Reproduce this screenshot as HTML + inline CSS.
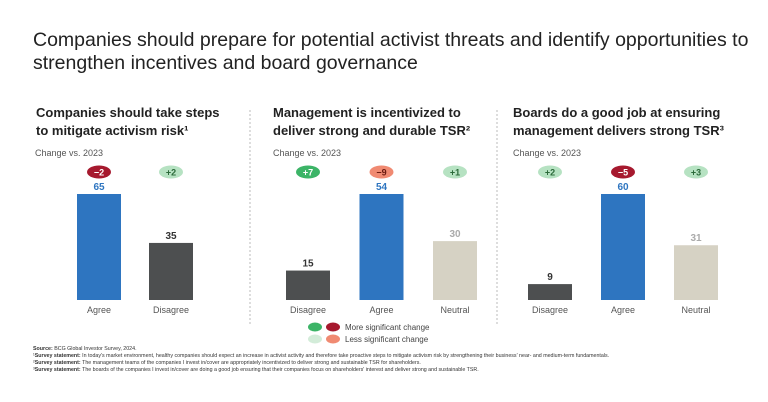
<!DOCTYPE html>
<html><head><meta charset="utf-8"><style>
body{margin:0;width:768px;height:402px;background:#fff;font-family:"Liberation Sans",sans-serif;color:#222;position:relative;overflow:hidden}
.abs{position:absolute}
h1{position:absolute;left:33px;top:29px;margin:0;font-size:19.5px;font-weight:normal;line-height:23px;color:#222;width:720px}
.pt{position:absolute;font-size:13px;font-weight:bold;line-height:18px;color:#222}
.cv{position:absolute;font-size:9px;color:#555}
.fn{position:absolute;left:33px;font-size:5.3px;color:#333;white-space:nowrap}
</style></head><body>
<h1>Companies should prepare for potential activist threats and identify opportunities to strengthen incentives and board governance</h1>
<div class="pt" style="left:36px;top:104px">Companies should take steps<br>to mitigate activism risk¹</div>
<div class="pt" style="left:273px;top:104px">Management is incentivized to<br>deliver strong and durable TSR²</div>
<div class="pt" style="left:513px;top:104px">Boards do a good job at ensuring<br>management delivers strong TSR³</div>
<div class="cv" style="left:35px;top:148px">Change vs. 2023</div>
<div class="cv" style="left:273px;top:148px">Change vs. 2023</div>
<div class="cv" style="left:513px;top:148px">Change vs. 2023</div>
<svg id="c" class="abs" style="left:0;top:0" width="768" height="402">
<line x1="250" y1="110" x2="250" y2="326" stroke="#bbb" stroke-dasharray="2,2"/>
<line x1="497" y1="110" x2="497" y2="326" stroke="#bbb" stroke-dasharray="2,2"/>
</svg>
<svg class="abs" style="left:300px;top:320px" width="170" height="26">
<ellipse cx="15" cy="7" rx="7" ry="4.5" fill="#3cb467"/>
<ellipse cx="33" cy="7" rx="7" ry="4.5" fill="#a6192e"/>
<text x="45" y="10" font-size="8" fill="#444" font-family="Liberation Sans">More significant change</text>
<ellipse cx="15" cy="19" rx="7" ry="4.5" fill="#d3ecd9"/>
<ellipse cx="33" cy="19" rx="7" ry="4.5" fill="#f08a72"/>
<text x="45" y="22" font-size="8" fill="#444" font-family="Liberation Sans">Less significant change</text>
</svg>
<div class="fn" style="top:346px"><b>Source:</b> BCG Global Investor Survey, 2024.</div>
<div class="fn" style="top:353px">¹<b>Survey statement:</b> In today's market environment, healthy companies should expect an increase in activist activity and therefore take proactive steps to mitigate activism risk by strengthening their business' near- and medium-term fundamentals.</div>
<div class="fn" style="top:360px">²<b>Survey statement:</b> The management teams of the companies I invest in/cover are appropriately incentivized to deliver strong and sustainable TSR for shareholders.</div>
<div class="fn" style="top:367px">³<b>Survey statement:</b> The boards of the companies I invest in/cover are doing a good job ensuring that their companies focus on shareholders' interest and deliver strong and sustainable TSR.</div>
<script>
const p1Categories=["Agree","Disagree"];
const p1Values=[65,35];
const p1Changes=["−2","+2"];
const p2Categories=["Disagree","Agree","Neutral"];
const p2Values=[15,54,30];
const p2Changes=["+7","−9","+1"];
const p3Categories=["Disagree","Agree","Neutral"];
const p3Values=[9,60,31];
const p3Changes=["+2","−5","+3"];
const NS="http://www.w3.org/2000/svg";
const svg=document.getElementById('c');
const colorFor={Agree:"#2e75c0",Disagree:"#4d4f50",Neutral:"#d6d2c4"};
const labelColor={Agree:"#2e75c0",Disagree:"#333",Neutral:"#aaa"};
const badgeStyles={"−2":["#a6192e","#fff"],"+2":["#b6e2c2","#2c6a3a"],"+7":["#3cb467","#fff"],"−9":["#f08a72","#6a1a10"],"+1":["#b6e2c2","#2c6a3a"],"−5":["#a6192e","#fff"],"+3":["#b6e2c2","#2c6a3a"]};
function mk(tag,attrs){const e=document.createElementNS(NS,tag);for(const k in attrs)e.setAttribute(k,attrs[k]);svg.appendChild(e);return e;}
function drawPanel(cats,vals,chg,x0,step,pid){
  const base=300,maxH=106,maxV=Math.max(...vals);
  const y=v=>base-v/maxV*maxH;
  cats.forEach((c,i)=>{
    const x=x0+i*step;
    const r=mk('rect',{x:x,y:y(vals[i]),width:44,height:base-y(vals[i]),fill:colorFor[c]});
    
    
    const t=mk('text',{x:x+22,y:y(vals[i])-4,'text-anchor':'middle','font-size':10,'font-weight':'bold',fill:labelColor[c],'font-family':'Liberation Sans'});
    t.textContent=vals[i];
    
    
    const l=mk('text',{x:x+22,y:base+13,'text-anchor':'middle','font-size':9,fill:'#555','font-family':'Liberation Sans'});
    l.textContent=c;
    
    
    const st=badgeStyles[chg[i]]||["#ddd","#333"];
    const b=mk('ellipse',{cx:x+22,cy:172,rx:12,ry:6.5,fill:st[0]});
    
    
    const bt=mk('text',{x:x+22,y:175.5,'text-anchor':'middle','font-size':9,'font-weight':'bold',fill:st[1],'font-family':'Liberation Sans'});
    bt.textContent=chg[i];
    
    
  });
}
drawPanel(p1Categories,p1Values,p1Changes,77,72,'panel1');
drawPanel(p2Categories,p2Values,p2Changes,286,73.5,'panel2');
drawPanel(p3Categories,p3Values,p3Changes,528,73,'panel3');
</script>
</body></html>
